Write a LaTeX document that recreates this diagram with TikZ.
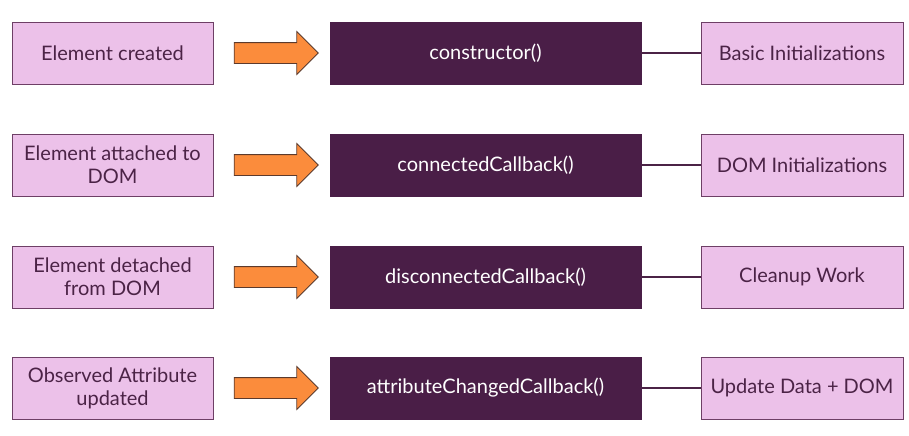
\documentclass[tikz,border=0pt]{standalone}
\usepackage{fontspec}
\setmainfont{Lato}
\usetikzlibrary{shapes.arrows}
\definecolor{evfill}{HTML}{ECC1E9}
\definecolor{evdraw}{HTML}{6E3F66}
\definecolor{evtext}{HTML}{4B2346}
\definecolor{cbfill}{HTML}{4A1E47}
\definecolor{arfill}{HTML}{FB8C3C}
\definecolor{ardraw}{HTML}{5C3A2C}

\begin{document}
\begin{tikzpicture}[
  x=0.5pt, y=-0.5pt,
  font=\fontsize{10}{11.5}\selectfont,
  ev/.style={draw=evdraw, fill=evfill, text=evtext, align=center, minimum width=100.5pt, minimum height=31pt, inner sep=2pt},
  cb/.style={draw=cbfill, fill=cbfill, text=white, align=center, minimum width=155.5pt, minimum height=31pt},
  res/.style={ev, minimum width=101pt},
  blk/.style={single arrow, draw=ardraw, fill=arfill, minimum height=42pt, minimum width=21pt,
    inner xsep=0pt, inner ysep=5pt, single arrow head extend=5.5pt, single arrow head indent=0pt},
  lnk/.style={draw=evtext, line width=1pt},
]
\useasboundingbox (0,0) rectangle (909,435);
% events (left)
\node[ev] (ev1) at (112.5,53) {Element created};
\node[ev] (ev2) at (112.5,165) {Element attached to\\DOM};
\node[ev] (ev3) at (112.5,277) {Element detached\\from DOM};
\node[ev] (ev4) at (112.5,388) {Observed Attribute\\updated};
% lifecycle callbacks
\node[cb] (cb1) at (485.5,53) {constructor()};
\node[cb] (cb2) at (485.5,165) {connectedCallback()};
\node[cb] (cb3) at (485.5,277) {disconnectedCallback()};
\node[cb] (cb4) at (485.5,388) {attributeChangedCallback()};
% what happens there
\node[res] (res1) at (802,53) {Basic Initializations};
\node[res] (res2) at (802,165) {DOM Initializations};
\node[res] (res3) at (802,277) {Cleanup Work};
\node[res] (res4) at (802,388) {Update Data + DOM};
% block arrows
\node[blk] (ar1) at (271,53) {};
\node[blk] (ar2) at (271,165) {};
\node[blk] (ar3) at (271,277) {};
\node[blk] (ar4) at (271,388) {};
% links
\draw[lnk] (cb1.east) -- (res1.west);
\draw[lnk] (cb2.east) -- (res2.west);
\draw[lnk] (cb3.east) -- (res3.west);
\draw[lnk] (cb4.east) -- (res4.west);
\end{tikzpicture}
\end{document}
